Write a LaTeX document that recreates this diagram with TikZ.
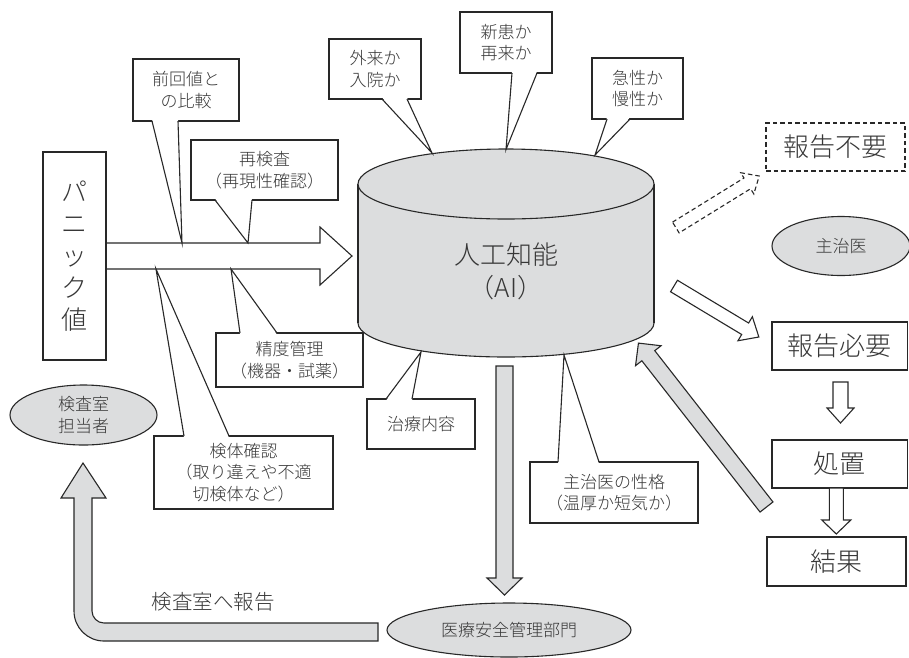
\documentclass[tikz,border=0pt]{standalone}
\usepackage{fontspec}
\setmainfont{Noto Sans CJK JP}[UprightFont={* Light}]
\usetikzlibrary{calc,shapes.geometric}
\definecolor{fillg}{RGB}{220,221,222}
\definecolor{linec}{RGB}{40,40,40}
\definecolor{txtc}{RGB}{55,55,55}
\tikzset{
  lc/.style={draw=linec, line width=1.1pt},
  cbox/.style={lc, fill=white, text=txtc, align=center, inner sep=0pt, font=\fontsize{17}{21.5}\selectfont},
  bigbox/.style={lc, fill=white, text=txtc, align=center, inner sep=0pt, font=\fontsize{26}{32}\selectfont},
  gell/.style={ellipse, lc, fill=fillg, text=txtc, align=center, inner sep=0pt, font=\fontsize{17}{22}\selectfont},
  hollow/.style={lc, fill=white, line join=miter},
  grayarrow/.style={lc, fill=fillg, line join=miter},
  dasharrow/.style={lc, fill=white, dash pattern=on 4.5pt off 3pt},
}
% #1 style, #2 length, #3 shaft half width, #4 head half width, #5 head length
\newcommand\blockarrow[5]{\draw[#1] (0,-#3) -- ({#2-#5},-#3) -- ({#2-#5},-#4) -- (#2,0) -- ({#2-#5},#4) -- ({#2-#5},#3) -- (0,#3) -- cycle;}
% callout pointer: #1 base point 1, #2 tip, #3 base point 2, #4 inward shift
\newcommand\callptr[4]{\fill[white] ($(#1)+(0,#4)$) -- (#2) -- ($(#3)+(0,#4)$) -- cycle;
  \draw[lc, line join=miter] (#1) -- (#2) -- (#3);}
\begin{document}
\begin{tikzpicture}[x=1pt,y=-1pt]
\useasboundingbox (0,0) rectangle (909,657);
\fill[white] (0,0) rectangle (909,657);

% cylinder (AI)
\filldraw[fillg, draw=linec, line width=1.1pt] (506,323) ellipse [x radius=148, y radius=34];
\fill[fillg] (358,184) rectangle (654,323);
\draw[lc] (358,184) -- (358,323);
\draw[lc] (654,184) -- (654,323);
\filldraw[fillg, draw=linec, line width=1.1pt] (506,184) ellipse [x radius=148, y radius=35];
\node[text=txtc, align=center, font=\fontsize{26}{33}\selectfont] (ai) at (506,271.5) {人工知能\\（AI）};

% big arrow from panic value
\draw[hollow] (106,243) -- (320,243) -- (320,227) -- (352,256) -- (320,285) -- (320,269) -- (106,269);
\node[bigbox, minimum width=63pt, minimum height=208pt, font=\fontsize{26}{32}\selectfont] (panic) at (74.5,256) {パ\\ニ\\ッ\\ク\\値};

% callouts
\node[cbox, minimum width=106pt, minimum height=62pt] (zenkai) at (186,90) {前回値と\\の比較};
\coordinate (tzenkai) at (182,243);
\callptr{152,121}{tzenkai}{178,121}{-1.6}

\node[cbox, minimum width=147pt, minimum height=60pt] (saikensa) at (264.5,170) {再検査\\（再現性確認）};
\coordinate (tsaikensa) at (248,243);
\callptr{215,200}{tsaikensa}{252,200}{-1.6}

\node[cbox, minimum width=147pt, minimum height=54pt] (seido) at (289.5,360) {精度管理\\（機器・試薬）};
\coordinate (tseido) at (231,269);
\callptr{240,333}{tseido}{277,333}{1.6}

\node[cbox, minimum width=179pt, minimum height=73pt] (kentai) at (243.5,472.5) {検体確認\\（取り違えや不適\\切検体など）};
\coordinate (tkentai) at (156,269);
\callptr{184,436}{tkentai}{229,436}{1.6}

\node[cbox, minimum width=92pt, minimum height=60pt] (gairai) at (375,69) {外来か\\入院か};
\coordinate (tgairai) at (432,153);
\callptr{382,99}{tgairai}{407,99}{-1.6}

\node[cbox, minimum width=92pt, minimum height=61pt] (shinkan) at (506,42.5) {新患か\\再来か};
\coordinate (tshinkan) at (506,149.5);
\callptr{512,73}{tshinkan}{537,73}{-1.6}

\node[cbox, minimum width=91pt, minimum height=61pt] (kyusei) at (637.5,88.5) {急性か\\慢性か};
\coordinate (tkyusei) at (595,155);
\callptr{607,119}{tkyusei}{630,119}{-1.6}

\node[cbox, minimum width=108pt, minimum height=50pt] (chiryo) at (421,424) {治療内容};
\coordinate (tchiryo) at (421,352);
\callptr{386,399}{tchiryo}{412,399}{1.6}

\node[cbox, minimum width=168pt, minimum height=61pt] (seikaku) at (614,492.5) {主治医の性格\\（温厚か短気か）};
\coordinate (tseikaku) at (564,355);
\callptr{558,462}{tseikaku}{599,462}{1.6}

% ellipses
\node[gell, minimum width=147pt, minimum height=60pt] (tanto) at (83.5,415) {検査室\\担当者};
\node[gell, minimum width=138pt, minimum height=59pt] (shujii) at (841,246) {主治医};
\node[gell, minimum width=244pt, minimum height=54pt] (iryo) at (509,630) {医療安全管理部門};

% right column boxes
\node[bigbox, dash pattern=on 4.5pt off 3pt, minimum width=139pt, minimum height=48pt] (fuyo) at (835.5,147) {報告不要};
\node[bigbox, minimum width=135.5pt, minimum height=48pt] (hitsuyo) at (839.75,346) {報告必要};
\node[bigbox, minimum width=135.5pt, minimum height=48pt] (shochi) at (839.75,464) {処置};
\node[bigbox, minimum width=139pt, minimum height=49pt] (kekka) at (836.5,561.5) {結果};

% arrows on the right
\begin{scope}[shift={(675.8,227.5)}, rotate=31.7]
  \blockarrow{dasharrow}{98}{6.3}{12.5}{14}
\end{scope}
\begin{scope}[shift={(674,286)}, rotate=-31]
  \blockarrow{hollow}{99}{6.7}{14}{16}
\end{scope}
\begin{scope}[shift={(840.5,382)}, rotate=-90]
  \blockarrow{hollow}{41}{7.5}{13.5}{15}
\end{scope}
\begin{scope}[shift={(836.3,488)}, rotate=-90]
  \blockarrow{hollow}{46}{7}{14.5}{14}
\end{scope}
\begin{scope}[shift={(766.5,507)}, rotate=128]
  \blockarrow{grayarrow}{208}{8.2}{16.2}{16}
\end{scope}

% gray arrow down to medical safety department
\begin{scope}[shift={(504.5,366)}, rotate=-90]
  \blockarrow{grayarrow}{229}{8.5}{17.5}{17}
\end{scope}

% L-shaped gray arrow back to lab staff
\draw[grayarrow] (378,623) -- (104,623) .. controls (97.4,623) and (92,617.6) .. (92,611)
  -- (92,498) -- (106,498) -- (83,463) -- (61,498) -- (74,498) -- (74,611)
  .. controls (74,627.6) and (87.4,641) .. (104,641) -- (378,641) -- cycle;
\node[text=txtc, font=\fontsize{20.5}{24}\selectfont] (hokoku) at (213,602) {検査室へ報告};
\end{tikzpicture}
\end{document}
